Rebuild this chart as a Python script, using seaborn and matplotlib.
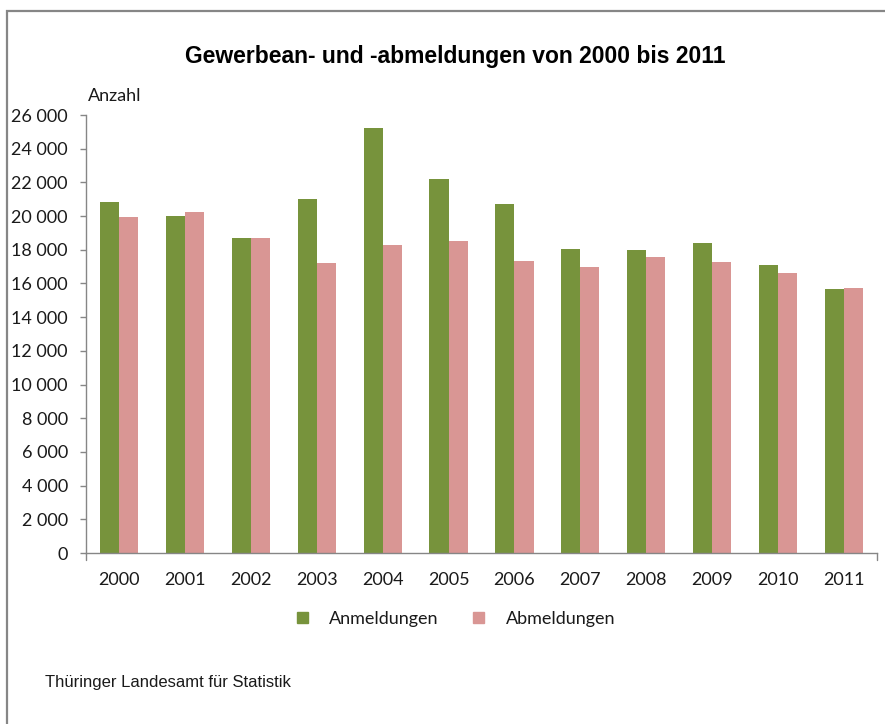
import matplotlib

matplotlib.use("Agg")
import matplotlib.pyplot as plt
import matplotlib.patches as mpatches
from matplotlib.ticker import FuncFormatter, MultipleLocator
import pandas as pd
import seaborn as sns

years = ["2000", "2001", "2002", "2003", "2004", "2005", "2006", "2007", "2008", "2009", "2010", "2011"]
anmeldungen = [20850, 20010, 18700, 21020, 25230, 22200, 20720, 18050, 17980, 18400, 17100, 15680]
abmeldungen = [19950, 20250, 18700, 17200, 18280, 18520, 17330, 16970, 17570, 17270, 16620, 15740]
series = ["Anmeldungen", "Abmeldungen"]
colors = ["#77933C", "#D99694"]

data = pd.DataFrame({
    "Jahr": years * 2,
    "Anzahl": anmeldungen + abmeldungen,
    "Art": [series[0]] * len(years) + [series[1]] * len(years),
})

sns.set_theme(style="white")
plt.rcParams["font.family"] = ["Lato", "DejaVu Sans"]

fig = plt.figure(figsize=(8.85, 7.24), dpi=100)
ax = fig.add_axes([86 / 885, 1 - 553 / 724, (877 - 86) / 885, (553 - 115) / 724])

sns.barplot(data, x="Jahr", y="Anzahl", hue="Art", palette=colors, width=0.58,
            saturation=1, linewidth=0, ax=ax, legend=False)

ax.set_ylim(0, 26000)
ax.set_xlim(-0.5, len(years) - 0.5)
ax.yaxis.set_major_locator(MultipleLocator(2000))
ax.yaxis.set_major_formatter(FuncFormatter(lambda v, _: f"{int(v):,}".replace(",", " ")))
ax.set_xlabel("")
ax.set_ylabel("")
for side in ["top", "right"]:
    ax.spines[side].set_visible(False)
for side in ["left", "bottom"]:
    ax.spines[side].set_color("#868686")
    ax.spines[side].set_linewidth(1.0)
ax.tick_params(axis="y", direction="out", length=4, width=1, color="#868686",
               labelsize=13, pad=9, left=True)
ax.tick_params(axis="x", length=0, labelsize=13, pad=14)
for lbl in ax.get_xticklabels() + ax.get_yticklabels():
    lbl.set_color("#1a1a1a")
# short end marks on the category axis
for xe in (0, 1):
    ax.plot([xe, xe], [0, -0.016], transform=ax.transAxes, color="#868686",
            lw=1, clip_on=False)

fig.text(88 / 885, 1 - 96 / 724, "Anzahl", fontsize=13, color="#1a1a1a", va="center")
fig.text(455 / 885, 1 - 57 / 724, "Gewerbean- und -abmeldungen von 2000 bis 2011",
         fontsize=16.5, fontweight="bold", family="Liberation Sans", color="black",
         ha="center", va="center")
fig.text(45 / 885, 1 - 683 / 724, "Thüringer Landesamt für Statistik",
         fontsize=12, family="Liberation Sans", color="#1a1a1a", va="center")

handles = [mpatches.Patch(color=c, label=s) for c, s in zip(colors, series)]
fig.legend(handles=handles, loc="center", bbox_to_anchor=(456 / 885, 1 - 619 / 724),
           ncol=2, frameon=False, fontsize=13, handlelength=0.6, handleheight=0.6,
           handletextpad=1.2, columnspacing=1.9, labelcolor="#1a1a1a")

# chart frame (left and top edges visible)
fig.add_artist(mpatches.Rectangle((7 / 885, -0.1), 1.2, 1.1 - 11 / 724,
                                  transform=fig.transFigure, fill=False,
                                  edgecolor="#868686", lw=1.6))

fig.savefig("out.png", dpi=100)
